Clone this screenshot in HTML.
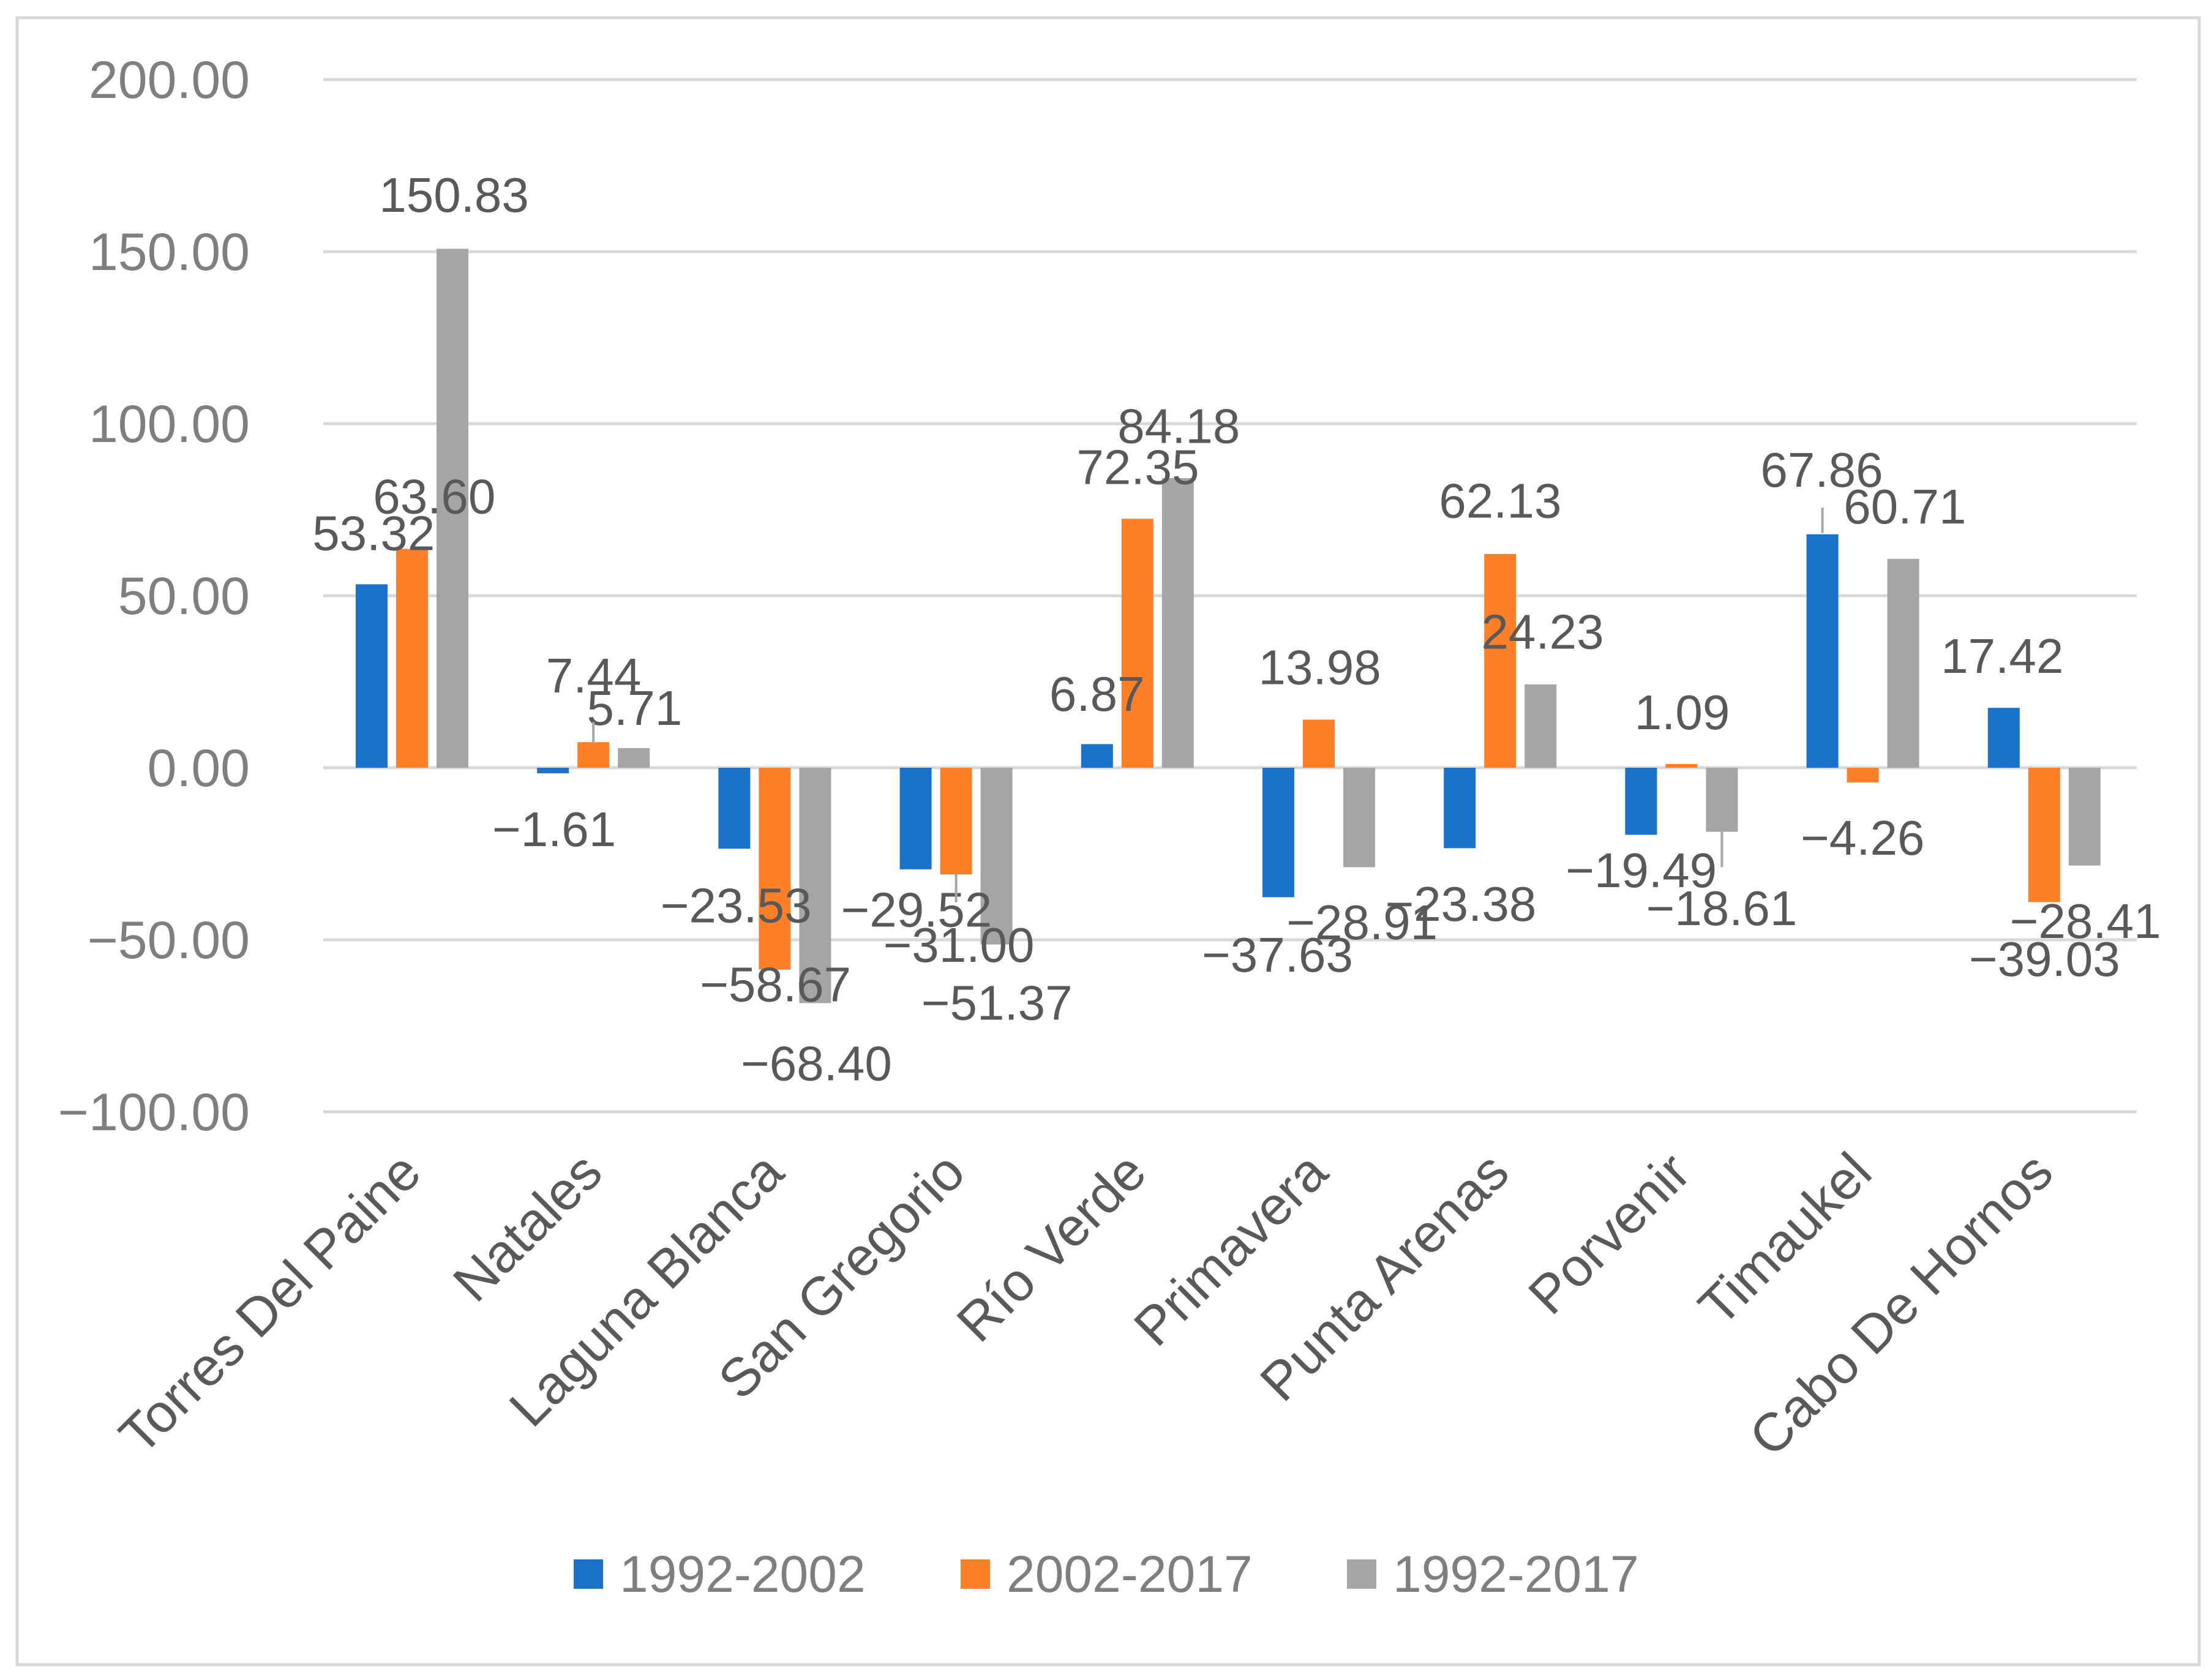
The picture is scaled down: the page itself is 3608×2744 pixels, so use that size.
<!DOCTYPE html>
<html><head><meta charset="utf-8"><style>
html,body{margin:0;padding:0;background:#fff;}
svg text{font-family:"Liberation Sans","DejaVu Sans",sans-serif;}
</style></head><body>
<svg id="chart" xmlns="http://www.w3.org/2000/svg" width="3608" height="2739" viewBox="0 0 3608 2739">
<rect x="28" y="29" width="3564" height="2690" fill="#fff" stroke="#d9d9d9" stroke-width="5"/>
<g id="grid"></g><g id="bars"></g><g id="labels"></g><g id="cats"></g>
<g id="legend">
 <rect x="937" y="2547" width="48" height="48" fill="#1a73c8"/>
 <text x="1012" y="2600" font-size="84" fill="#7f7f7f">1992-2002</text>
 <rect x="1569" y="2547" width="48" height="48" fill="#fd7f28"/>
 <text x="1644" y="2600" font-size="84" fill="#7f7f7f">2002-2017</text>
 <rect x="2200" y="2547" width="48" height="48" fill="#a5a5a5"/>
 <text x="2275" y="2600" font-size="84" fill="#7f7f7f">1992-2017</text>
</g>
</svg>
<script>
const categories=["Torres Del Paine","Natales","Laguna Blanca","San Gregorio","Río Verde","Primavera","Punta Arenas","Porvenir","Timaukel","Cabo De Hornos"];
const series1=[53.32,-1.61,-23.53,-29.52,6.87,-37.63,-23.38,-19.49,67.86,17.42];
const series2=[63.60,7.44,-58.67,-31.00,72.35,13.98,62.13,1.09,-4.26,-39.03];
const series3=[150.83,5.71,-68.40,-51.37,84.18,-28.91,24.23,-18.61,60.71,-28.41];
const seriesNames=["1992-2002","2002-2017","1992-2017"];
const yTicks=[200,150,100,50,0,-50,-100];
const yTickLabels=["200.00","150.00","100.00","50.00","0.00","\u221250.00","\u2212100.00"];
// label positions in displayed-scale coords (manual placement like Excel)
const labelPos=[
 [[265,378],[393,588],[522,642],[650,645],[778,492],[906,677],[1036,641],[1164,617],[1292,333],[1420,465]],
 [[308,352],[421,479],[550,698],[680,670],[807,331],[936,473],[1064,355],[1193,505],[1321,594],[1450,680]],
 [[322,138],[450,502],[579,754],[707,711],[836,302],[966,654],[1094,448],[1221,644],[1351,359],[1479,653]]
];
const colors=["#1a73c8","#fd7f28","#a5a5a5"];
const NS="http://www.w3.org/2000/svg";
const X0=528,X1=3490,Y0=1254,PX50=281;
function y(v){return Y0-v*PX50/50;}
const bw=(X1-X0)/categories.length;
function xBar(i,s){return X0+i*bw+53+s*66;}
function mk(tag,attrs,parent){const e=document.createElementNS(NS,tag);for(const k in attrs)e.setAttribute(k,attrs[k]);parent.appendChild(e);return e;}
const grid=document.getElementById('grid');
yTicks.forEach((t,i)=>{
 const l=mk('line',{x1:X0,x2:X1,y1:y(t),y2:y(t),stroke:'#d9d9d9','stroke-width':5},grid);
 
 
 const tx=mk('text',{x:408,y:y(t)+30,'text-anchor':'end','font-size':86,fill:'#7f7f7f'},grid);
 tx.textContent=yTickLabels[i];
 
 
});
const all=[series1,series2,series3];
const bars=document.getElementById('bars'),labs=document.getElementById('labels');
all.forEach((ser,s)=>{ser.forEach((v,i)=>{
 const x=xBar(i,s),top=Math.min(y(v),y(0)),h=Math.abs(y(v)-y(0));
 const r=mk('rect',{x:x,y:top,width:52,height:Math.max(h,3),fill:colors[s]},bars);
 
 
 const p=labelPos[s][i];
 const t=mk('text',{x:p[0]*2.303,y:p[1]*2.303+28,'text-anchor':'middle','font-size':80,fill:'#595959'},labs);
 t.textContent=(v<0?'\u2212':'')+Math.abs(v).toFixed(2);
 
 
});});
[[1,1,512,527],[2,7,588,615],[0,8,360,378],[1,3,620,640]].forEach(a=>{
 const x=xBar(a[1],a[0])+26;
 const l=mk('line',{x1:x,x2:x,y1:a[2]*2.303,y2:a[3]*2.303,stroke:'#a5a5a5','stroke-width':4},labs);
 
 
});
const cats=document.getElementById('cats');
categories.forEach((c,i)=>{
 const cx=X0+i*bw+bw/2+16, cy=1920;
 const t=mk('text',{x:cx,y:cy,'text-anchor':'end','font-size':88,fill:'#595959',transform:`rotate(-45 ${cx} ${cy})`},cats);
 t.textContent=c;
 
 
});
</script>
</body></html>
